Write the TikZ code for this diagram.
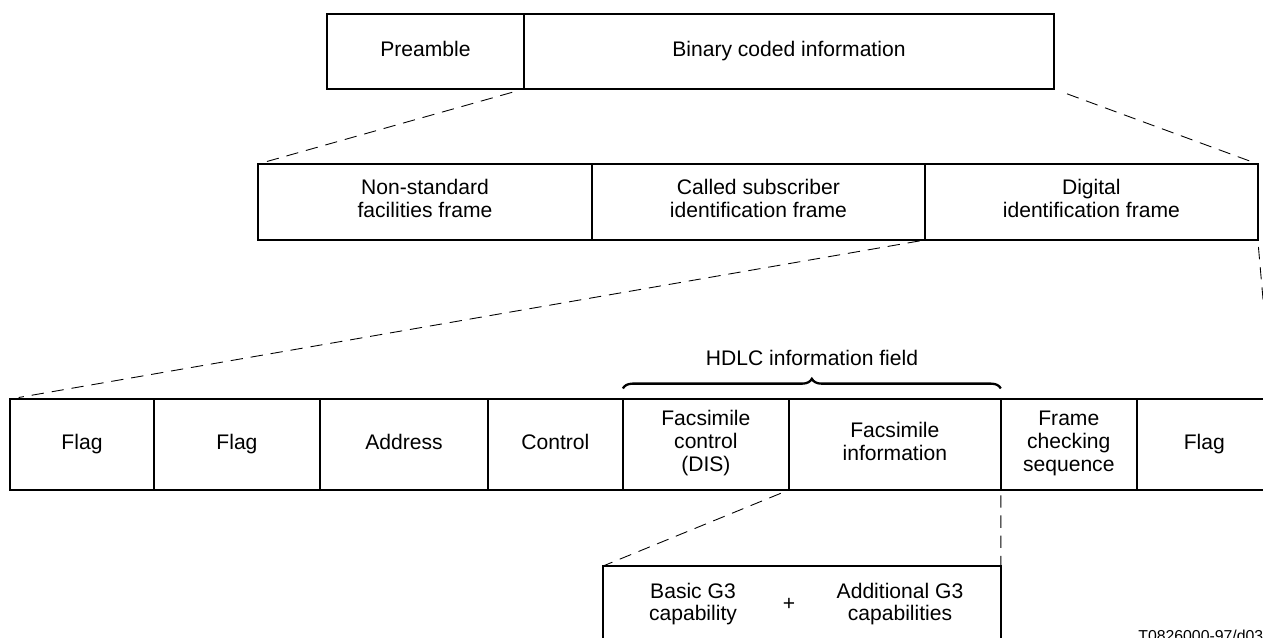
\documentclass[tikz,border=0pt]{standalone}
\usepackage{fontspec}
\setmainfont{Liberation Sans}
\usetikzlibrary{positioning,decorations.pathreplacing}

\begin{document}
\begin{tikzpicture}[
    x=0.02cm, y=-0.02cm,
    font=\fontsize{12}{13}\selectfont,
    cell/.style={rectangle, draw, line width=0.8pt, inner sep=0pt, outer sep=0pt, align=center,
        execute at begin node=\strut, execute at end node=\strut},
    framecell/.style={cell, minimum height=1.5cm},
    subcell/.style={cell, minimum height=1.52cm},
    fieldcell/.style={cell, minimum height=1.82cm},
    zoomline/.style={line width=0.5pt, dash pattern=on 7pt off 4.5pt},
    fieldbrace/.style={decorate, decoration={brace, amplitude=5.5pt}, line width=1.3pt}
]
    \useasboundingbox (0,0) rectangle (1263,637);
    \clip (0,0) rectangle (1263,637);

    % signal
    \node[framecell, minimum width=3.94cm, anchor=north west] (pre) at (327,14) {Preamble};
    \node[framecell, minimum width=10.6cm, right=0pt of pre] (bin) {Binary coded information};

    % frames
    \node[subcell, minimum width=6.68cm, anchor=north west] (nsf) at (258,164) {Non-standard\\facilities frame};
    \node[subcell, minimum width=6.66cm, right=0pt of nsf] (csi) {Called subscriber\\identification frame};
    \node[subcell, minimum width=6.66cm, right=0pt of csi] (dis) {Digital\\identification frame};

    % HDLC frame
    \node[fieldcell, minimum width=2.88cm, anchor=north west] (flaga) at (10,399) {Flag};
    \node[fieldcell, minimum width=3.32cm, right=0pt of flaga] (flagb) {Flag};
    \node[fieldcell, minimum width=3.36cm, right=0pt of flagb] (addr) {Address};
    \node[fieldcell, minimum width=2.7cm, right=0pt of addr] (ctrl) {Control};
    \node[fieldcell, minimum width=3.32cm, right=0pt of ctrl] (fcf) {Facsimile\\control\\(DIS)};
    \node[fieldcell, minimum width=4.24cm, right=0pt of fcf] (fif) {Facsimile\\information};
    \node[fieldcell, minimum width=2.72cm, right=0pt of fif] (fcs) {Frame\\checking\\sequence};
    \node[fieldcell, minimum width=2.7cm, right=0pt of fcs] (flagc) {Flag};

    \draw[fieldbrace] ([yshift=6pt]fcf.north west) -- ([yshift=6pt]fif.north east);
    \node (infolabel) at (812,358) {HDLC information field};

    % capabilities
    \node[cell, minimum width=7.96cm, minimum height=1.48cm, anchor=north west] (caps) at (603,566) {};
    \node[align=center] (basic) at (693,604) {Basic G3\\capability};
    \node (plus) at (789,604) {+};
    \node[align=center] (extra) at (900,604) {Additional G3\\capabilities};

    \node[anchor=north west, inner sep=0pt, font=\fontsize{9}{10}\selectfont] (ref) at (1138,630) {T0826000-97/d03};

    % expansions
    \draw[zoomline, shorten <=7pt, shorten >=3pt] (pre.south east) -- (nsf.north west);
    \draw[zoomline, shorten <=8pt, shorten >=5pt] (bin.south east) -- (dis.north east);
    \draw[zoomline, shorten <=3pt, shorten >=5pt] (csi.south east) -- (flaga.north west);
    \draw[zoomline, shorten <=4pt] (dis.south east) -- (flagc.north east);
    \draw[zoomline, shorten <=5pt] (fcf.south east) -- (caps.north west);
    \draw[zoomline, shorten <=3pt] (fif.south east) -- (caps.north east);
\end{tikzpicture}
\end{document}
